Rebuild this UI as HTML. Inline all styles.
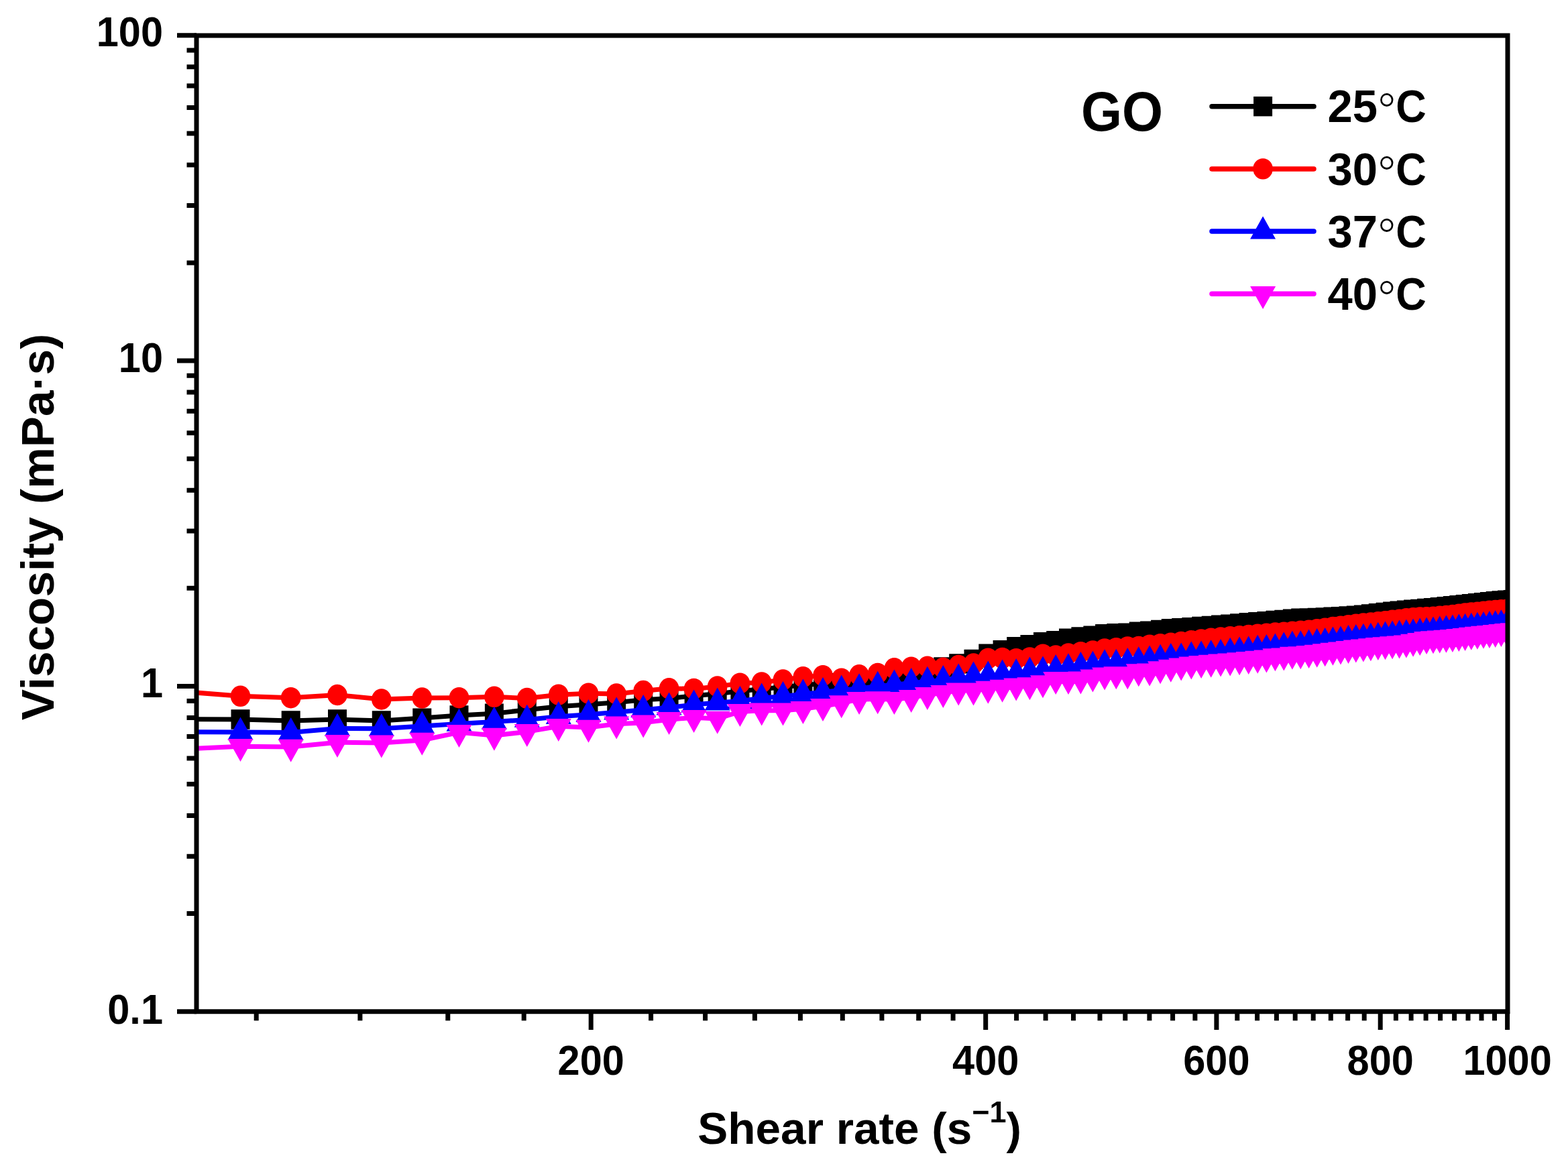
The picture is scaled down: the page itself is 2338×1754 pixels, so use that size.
<!DOCTYPE html><html><head><meta charset="utf-8"><title>Viscosity vs shear rate</title>
<style>html,body{margin:0;padding:0;background:#fff;overflow:hidden;}svg{display:block;}.t{font-family:"Liberation Sans",Arial,sans-serif;font-weight:bold;fill:#000;}</style></head><body>
<svg width="2338" height="1754" viewBox="0 0 2338 1754">
<rect width="2338" height="1754" fill="#fff"/>
<defs><clipPath id="pc"><rect x="293.0" y="53.0" width="1955.0" height="1455.7"/></clipPath></defs>
<g clip-path="url(#pc)">
<path d="M274.9 1072.7 L358.5 1073.0 L433.7 1075.0 L503.0 1073.0 L568.8 1075.0 L629.3 1071.1 L684.5 1067.0 L736.9 1064.2 L785.8 1058.7 L832.8 1053.7 L877.5 1050.7 L919.2 1047.7 L959.2 1043.7 L997.6 1041.7 L1034.6 1037.7 L1069.7 1034.7 L1103.4 1030.7 L1135.7 1027.7 L1167.5 1024.7 L1197.4 1021.7 L1227.0 1019.7 L1254.7 1018.7 L1281.1 1016.7 L1308.7 1015.7 L1333.4 1013.7 L1358.7 1011.7 L1382.8 1003.7 L1406.3 995.0 L1429.2 989.9 L1451.5 983.4 L1473.3 975.1 L1494.6 969.6 L1515.2 964.6 L1535.4 961.7 L1555.0 957.6 L1574.2 955.8 L1593.0 952.3 L1611.4 949.9 L1629.4 948.2 L1647.1 945.8 L1664.3 944.7 L1681.3 944.1 L1697.8 942.3 L1714.1 941.1 L1730.1 939.4 L1745.8 937.7 L1761.2 936.6 L1776.3 935.6 L1791.1 934.5 L1805.7 933.5 L1820.1 932.3 L1834.2 931.2 L1848.1 930.0 L1861.7 928.8 L1875.2 927.7 L1888.4 926.6 L1901.4 925.5 L1914.3 924.5 L1926.9 923.3 L1939.3 922.3 L1951.6 921.9 L1963.7 921.5 L1975.7 920.9 L1987.4 920.2 L1999.0 919.6 L2010.5 919.0 L2021.8 918.3 L2032.9 917.1 L2043.9 915.9 L2054.8 914.7 L2065.5 913.5 L2076.1 912.3 L2086.5 911.2 L2096.9 910.2 L2107.1 909.3 L2117.2 908.4 L2127.1 907.5 L2137.0 906.6 L2146.7 905.7 L2156.4 904.8 L2165.9 903.8 L2175.3 902.8 L2184.6 901.8 L2193.8 900.7 L2202.9 899.7 L2212.0 898.7 L2220.9 897.7 L2229.7 896.7 L2238.4 896.0 L2247.1 895.3 L2255.7 894.6" fill="none" stroke="#000000" stroke-width="7.0" stroke-linejoin="round"/>
<path d="M344.5 1058.3h28.0v29.4h-28.0zM419.7 1060.3h28.0v29.4h-28.0zM489.0 1058.3h28.0v29.4h-28.0zM554.8 1060.3h28.0v29.4h-28.0zM615.3 1056.4h28.0v29.4h-28.0zM670.5 1052.3h28.0v29.4h-28.0zM722.9 1049.5h28.0v29.4h-28.0zM771.8 1044.0h28.0v29.4h-28.0zM818.8 1039.0h28.0v29.4h-28.0zM863.5 1036.0h28.0v29.4h-28.0zM905.2 1033.0h28.0v29.4h-28.0zM945.2 1029.0h28.0v29.4h-28.0zM983.6 1027.0h28.0v29.4h-28.0zM1020.6 1023.0h28.0v29.4h-28.0zM1055.7 1020.0h28.0v29.4h-28.0zM1089.4 1016.0h28.0v29.4h-28.0zM1121.7 1013.0h28.0v29.4h-28.0zM1153.5 1010.0h28.0v29.4h-28.0zM1183.4 1007.0h28.0v29.4h-28.0zM1213.0 1005.0h28.0v29.4h-28.0zM1240.7 1004.0h28.0v29.4h-28.0zM1267.1 1002.0h28.0v29.4h-28.0zM1294.7 1001.0h28.0v29.4h-28.0zM1319.4 999.0h28.0v29.4h-28.0zM1344.7 997.0h28.0v29.4h-28.0zM1368.8 989.0h28.0v29.4h-28.0zM1392.3 980.3h28.0v29.4h-28.0zM1415.2 975.2h28.0v29.4h-28.0zM1437.5 968.7h28.0v29.4h-28.0zM1459.3 960.4h28.0v29.4h-28.0zM1480.6 954.9h28.0v29.4h-28.0zM1501.2 949.9h28.0v29.4h-28.0zM1521.4 947.0h28.0v29.4h-28.0zM1541.0 942.9h28.0v29.4h-28.0zM1560.2 941.1h28.0v29.4h-28.0zM1579.0 937.6h28.0v29.4h-28.0zM1597.4 935.2h28.0v29.4h-28.0zM1615.4 933.5h28.0v29.4h-28.0zM1633.1 931.1h28.0v29.4h-28.0zM1650.3 930.0h28.0v29.4h-28.0zM1667.3 929.4h28.0v29.4h-28.0zM1683.8 927.6h28.0v29.4h-28.0zM1700.1 926.4h28.0v29.4h-28.0zM1716.1 924.7h28.0v29.4h-28.0zM1731.8 923.0h28.0v29.4h-28.0zM1747.2 921.9h28.0v29.4h-28.0zM1762.3 920.9h28.0v29.4h-28.0zM1777.1 919.8h28.0v29.4h-28.0zM1791.7 918.8h28.0v29.4h-28.0zM1806.1 917.6h28.0v29.4h-28.0zM1820.2 916.5h28.0v29.4h-28.0zM1834.1 915.3h28.0v29.4h-28.0zM1847.7 914.1h28.0v29.4h-28.0zM1861.2 913.0h28.0v29.4h-28.0zM1874.4 911.9h28.0v29.4h-28.0zM1887.4 910.8h28.0v29.4h-28.0zM1900.3 909.8h28.0v29.4h-28.0zM1912.9 908.6h28.0v29.4h-28.0zM1925.3 907.6h28.0v29.4h-28.0zM1937.6 907.2h28.0v29.4h-28.0zM1949.7 906.8h28.0v29.4h-28.0zM1961.7 906.2h28.0v29.4h-28.0zM1973.4 905.5h28.0v29.4h-28.0zM1985.0 904.9h28.0v29.4h-28.0zM1996.5 904.3h28.0v29.4h-28.0zM2007.8 903.6h28.0v29.4h-28.0zM2018.9 902.4h28.0v29.4h-28.0zM2029.9 901.2h28.0v29.4h-28.0zM2040.8 900.0h28.0v29.4h-28.0zM2051.5 898.8h28.0v29.4h-28.0zM2062.1 897.6h28.0v29.4h-28.0zM2072.5 896.5h28.0v29.4h-28.0zM2082.9 895.5h28.0v29.4h-28.0zM2093.1 894.6h28.0v29.4h-28.0zM2103.2 893.7h28.0v29.4h-28.0zM2113.1 892.8h28.0v29.4h-28.0zM2123.0 891.9h28.0v29.4h-28.0zM2132.7 891.0h28.0v29.4h-28.0zM2142.4 890.1h28.0v29.4h-28.0zM2151.9 889.1h28.0v29.4h-28.0zM2161.3 888.1h28.0v29.4h-28.0zM2170.6 887.1h28.0v29.4h-28.0zM2179.8 886.0h28.0v29.4h-28.0zM2188.9 885.0h28.0v29.4h-28.0zM2198.0 884.0h28.0v29.4h-28.0zM2206.9 883.0h28.0v29.4h-28.0zM2215.7 882.0h28.0v29.4h-28.0zM2224.4 881.3h28.0v29.4h-28.0zM2233.1 880.6h28.0v29.4h-28.0zM2241.7 879.9h28.0v29.4h-28.0z" fill="#000000"/>
<path d="M274.9 1031.7 L358.5 1038.3 L433.7 1040.7 L503.0 1036.5 L568.8 1043.0 L629.3 1041.0 L684.5 1040.7 L736.9 1039.3 L785.8 1041.5 L832.8 1036.2 L877.5 1034.2 L919.2 1035.0 L959.2 1030.6 L997.6 1026.8 L1034.6 1027.4 L1069.7 1023.9 L1103.4 1019.2 L1135.7 1018.0 L1167.5 1013.9 L1197.4 1009.8 L1227.0 1007.7 L1254.7 1012.1 L1281.1 1006.8 L1308.7 1004.4 L1333.4 996.8 L1358.7 995.2 L1382.8 994.3 L1406.3 996.3 L1429.2 992.5 L1451.5 990.0 L1473.3 982.1 L1494.6 981.5 L1515.2 982.7 L1535.4 980.9 L1555.0 976.2 L1574.2 978.0 L1593.0 975.0 L1611.4 972.7 L1629.4 970.9 L1647.1 968.0 L1664.3 966.8 L1681.3 965.0 L1697.8 964.5 L1714.1 962.1 L1730.1 960.7 L1745.8 959.3 L1761.2 957.5 L1776.3 955.7 L1791.1 953.9 L1805.7 952.1 L1820.1 950.9 L1834.2 949.8 L1848.1 948.6 L1861.7 947.4 L1875.2 946.3 L1888.4 945.2 L1901.4 944.1 L1914.3 943.1 L1926.9 942.2 L1939.3 941.3 L1951.6 940.3 L1963.7 938.7 L1975.7 937.2 L1987.4 935.6 L1999.0 934.1 L2010.5 932.7 L2021.8 931.3 L2032.9 930.0 L2043.9 928.9 L2054.8 927.8 L2065.5 926.6 L2076.1 925.3 L2086.5 924.1 L2096.9 922.8 L2107.1 921.6 L2117.2 920.9 L2127.1 920.8 L2137.0 920.2 L2146.7 919.3 L2156.4 918.4 L2165.9 917.4 L2175.3 916.2 L2184.6 915.0 L2193.8 914.0 L2202.9 913.1 L2212.0 912.2 L2220.9 911.3 L2229.7 910.4 L2238.4 909.8 L2247.1 909.1 L2255.7 908.5" fill="none" stroke="#ff0000" stroke-width="7.0" stroke-linejoin="round"/>
<path d="M343.7 1038.3a14.8 15.7 0 1 0 29.6 0a14.8 15.7 0 1 0 -29.6 0zM418.9 1040.7a14.8 15.7 0 1 0 29.6 0a14.8 15.7 0 1 0 -29.6 0zM488.2 1036.5a14.8 15.7 0 1 0 29.6 0a14.8 15.7 0 1 0 -29.6 0zM554.0 1043.0a14.8 15.7 0 1 0 29.6 0a14.8 15.7 0 1 0 -29.6 0zM614.5 1041.0a14.8 15.7 0 1 0 29.6 0a14.8 15.7 0 1 0 -29.6 0zM669.7 1040.7a14.8 15.7 0 1 0 29.6 0a14.8 15.7 0 1 0 -29.6 0zM722.1 1039.3a14.8 15.7 0 1 0 29.6 0a14.8 15.7 0 1 0 -29.6 0zM771.0 1041.5a14.8 15.7 0 1 0 29.6 0a14.8 15.7 0 1 0 -29.6 0zM818.0 1036.2a14.8 15.7 0 1 0 29.6 0a14.8 15.7 0 1 0 -29.6 0zM862.7 1034.2a14.8 15.7 0 1 0 29.6 0a14.8 15.7 0 1 0 -29.6 0zM904.4 1035.0a14.8 15.7 0 1 0 29.6 0a14.8 15.7 0 1 0 -29.6 0zM944.4 1030.6a14.8 15.7 0 1 0 29.6 0a14.8 15.7 0 1 0 -29.6 0zM982.8 1026.8a14.8 15.7 0 1 0 29.6 0a14.8 15.7 0 1 0 -29.6 0zM1019.8 1027.4a14.8 15.7 0 1 0 29.6 0a14.8 15.7 0 1 0 -29.6 0zM1054.9 1023.9a14.8 15.7 0 1 0 29.6 0a14.8 15.7 0 1 0 -29.6 0zM1088.6 1019.2a14.8 15.7 0 1 0 29.6 0a14.8 15.7 0 1 0 -29.6 0zM1120.9 1018.0a14.8 15.7 0 1 0 29.6 0a14.8 15.7 0 1 0 -29.6 0zM1152.7 1013.9a14.8 15.7 0 1 0 29.6 0a14.8 15.7 0 1 0 -29.6 0zM1182.6 1009.8a14.8 15.7 0 1 0 29.6 0a14.8 15.7 0 1 0 -29.6 0zM1212.2 1007.7a14.8 15.7 0 1 0 29.6 0a14.8 15.7 0 1 0 -29.6 0zM1239.9 1012.1a14.8 15.7 0 1 0 29.6 0a14.8 15.7 0 1 0 -29.6 0zM1266.3 1006.8a14.8 15.7 0 1 0 29.6 0a14.8 15.7 0 1 0 -29.6 0zM1293.9 1004.4a14.8 15.7 0 1 0 29.6 0a14.8 15.7 0 1 0 -29.6 0zM1318.6 996.8a14.8 15.7 0 1 0 29.6 0a14.8 15.7 0 1 0 -29.6 0zM1343.9 995.2a14.8 15.7 0 1 0 29.6 0a14.8 15.7 0 1 0 -29.6 0zM1368.0 994.3a14.8 15.7 0 1 0 29.6 0a14.8 15.7 0 1 0 -29.6 0zM1391.5 996.3a14.8 15.7 0 1 0 29.6 0a14.8 15.7 0 1 0 -29.6 0zM1414.4 992.5a14.8 15.7 0 1 0 29.6 0a14.8 15.7 0 1 0 -29.6 0zM1436.8 990.0a14.8 15.7 0 1 0 29.6 0a14.8 15.7 0 1 0 -29.6 0zM1458.5 982.1a14.8 15.7 0 1 0 29.6 0a14.8 15.7 0 1 0 -29.6 0zM1479.8 981.5a14.8 15.7 0 1 0 29.6 0a14.8 15.7 0 1 0 -29.6 0zM1500.4 982.7a14.8 15.7 0 1 0 29.6 0a14.8 15.7 0 1 0 -29.6 0zM1520.6 980.9a14.8 15.7 0 1 0 29.6 0a14.8 15.7 0 1 0 -29.6 0zM1540.2 976.2a14.8 15.7 0 1 0 29.6 0a14.8 15.7 0 1 0 -29.6 0zM1559.4 978.0a14.8 15.7 0 1 0 29.6 0a14.8 15.7 0 1 0 -29.6 0zM1578.2 975.0a14.8 15.7 0 1 0 29.6 0a14.8 15.7 0 1 0 -29.6 0zM1596.6 972.7a14.8 15.7 0 1 0 29.6 0a14.8 15.7 0 1 0 -29.6 0zM1614.6 970.9a14.8 15.7 0 1 0 29.6 0a14.8 15.7 0 1 0 -29.6 0zM1632.3 968.0a14.8 15.7 0 1 0 29.6 0a14.8 15.7 0 1 0 -29.6 0zM1649.5 966.8a14.8 15.7 0 1 0 29.6 0a14.8 15.7 0 1 0 -29.6 0zM1666.5 965.0a14.8 15.7 0 1 0 29.6 0a14.8 15.7 0 1 0 -29.6 0zM1683.0 964.5a14.8 15.7 0 1 0 29.6 0a14.8 15.7 0 1 0 -29.6 0zM1699.3 962.1a14.8 15.7 0 1 0 29.6 0a14.8 15.7 0 1 0 -29.6 0zM1715.3 960.7a14.8 15.7 0 1 0 29.6 0a14.8 15.7 0 1 0 -29.6 0zM1731.0 959.3a14.8 15.7 0 1 0 29.6 0a14.8 15.7 0 1 0 -29.6 0zM1746.4 957.5a14.8 15.7 0 1 0 29.6 0a14.8 15.7 0 1 0 -29.6 0zM1761.5 955.7a14.8 15.7 0 1 0 29.6 0a14.8 15.7 0 1 0 -29.6 0zM1776.3 953.9a14.8 15.7 0 1 0 29.6 0a14.8 15.7 0 1 0 -29.6 0zM1790.9 952.1a14.8 15.7 0 1 0 29.6 0a14.8 15.7 0 1 0 -29.6 0zM1805.3 950.9a14.8 15.7 0 1 0 29.6 0a14.8 15.7 0 1 0 -29.6 0zM1819.4 949.8a14.8 15.7 0 1 0 29.6 0a14.8 15.7 0 1 0 -29.6 0zM1833.3 948.6a14.8 15.7 0 1 0 29.6 0a14.8 15.7 0 1 0 -29.6 0zM1846.9 947.4a14.8 15.7 0 1 0 29.6 0a14.8 15.7 0 1 0 -29.6 0zM1860.4 946.3a14.8 15.7 0 1 0 29.6 0a14.8 15.7 0 1 0 -29.6 0zM1873.6 945.2a14.8 15.7 0 1 0 29.6 0a14.8 15.7 0 1 0 -29.6 0zM1886.6 944.1a14.8 15.7 0 1 0 29.6 0a14.8 15.7 0 1 0 -29.6 0zM1899.5 943.1a14.8 15.7 0 1 0 29.6 0a14.8 15.7 0 1 0 -29.6 0zM1912.1 942.2a14.8 15.7 0 1 0 29.6 0a14.8 15.7 0 1 0 -29.6 0zM1924.5 941.3a14.8 15.7 0 1 0 29.6 0a14.8 15.7 0 1 0 -29.6 0zM1936.8 940.3a14.8 15.7 0 1 0 29.6 0a14.8 15.7 0 1 0 -29.6 0zM1948.9 938.7a14.8 15.7 0 1 0 29.6 0a14.8 15.7 0 1 0 -29.6 0zM1960.9 937.2a14.8 15.7 0 1 0 29.6 0a14.8 15.7 0 1 0 -29.6 0zM1972.6 935.6a14.8 15.7 0 1 0 29.6 0a14.8 15.7 0 1 0 -29.6 0zM1984.2 934.1a14.8 15.7 0 1 0 29.6 0a14.8 15.7 0 1 0 -29.6 0zM1995.7 932.7a14.8 15.7 0 1 0 29.6 0a14.8 15.7 0 1 0 -29.6 0zM2007.0 931.3a14.8 15.7 0 1 0 29.6 0a14.8 15.7 0 1 0 -29.6 0zM2018.1 930.0a14.8 15.7 0 1 0 29.6 0a14.8 15.7 0 1 0 -29.6 0zM2029.1 928.9a14.8 15.7 0 1 0 29.6 0a14.8 15.7 0 1 0 -29.6 0zM2040.0 927.8a14.8 15.7 0 1 0 29.6 0a14.8 15.7 0 1 0 -29.6 0zM2050.7 926.6a14.8 15.7 0 1 0 29.6 0a14.8 15.7 0 1 0 -29.6 0zM2061.3 925.3a14.8 15.7 0 1 0 29.6 0a14.8 15.7 0 1 0 -29.6 0zM2071.7 924.1a14.8 15.7 0 1 0 29.6 0a14.8 15.7 0 1 0 -29.6 0zM2082.1 922.8a14.8 15.7 0 1 0 29.6 0a14.8 15.7 0 1 0 -29.6 0zM2092.3 921.6a14.8 15.7 0 1 0 29.6 0a14.8 15.7 0 1 0 -29.6 0zM2102.4 920.9a14.8 15.7 0 1 0 29.6 0a14.8 15.7 0 1 0 -29.6 0zM2112.3 920.8a14.8 15.7 0 1 0 29.6 0a14.8 15.7 0 1 0 -29.6 0zM2122.2 920.2a14.8 15.7 0 1 0 29.6 0a14.8 15.7 0 1 0 -29.6 0zM2131.9 919.3a14.8 15.7 0 1 0 29.6 0a14.8 15.7 0 1 0 -29.6 0zM2141.6 918.4a14.8 15.7 0 1 0 29.6 0a14.8 15.7 0 1 0 -29.6 0zM2151.1 917.4a14.8 15.7 0 1 0 29.6 0a14.8 15.7 0 1 0 -29.6 0zM2160.5 916.2a14.8 15.7 0 1 0 29.6 0a14.8 15.7 0 1 0 -29.6 0zM2169.8 915.0a14.8 15.7 0 1 0 29.6 0a14.8 15.7 0 1 0 -29.6 0zM2179.0 914.0a14.8 15.7 0 1 0 29.6 0a14.8 15.7 0 1 0 -29.6 0zM2188.1 913.1a14.8 15.7 0 1 0 29.6 0a14.8 15.7 0 1 0 -29.6 0zM2197.2 912.2a14.8 15.7 0 1 0 29.6 0a14.8 15.7 0 1 0 -29.6 0zM2206.1 911.3a14.8 15.7 0 1 0 29.6 0a14.8 15.7 0 1 0 -29.6 0zM2214.9 910.4a14.8 15.7 0 1 0 29.6 0a14.8 15.7 0 1 0 -29.6 0zM2223.6 909.8a14.8 15.7 0 1 0 29.6 0a14.8 15.7 0 1 0 -29.6 0zM2232.3 909.1a14.8 15.7 0 1 0 29.6 0a14.8 15.7 0 1 0 -29.6 0zM2240.9 908.5a14.8 15.7 0 1 0 29.6 0a14.8 15.7 0 1 0 -29.6 0z" fill="#ff0000"/>
<path d="M274.9 1091.7 L358.5 1092.1 L433.7 1092.6 L503.0 1086.5 L568.8 1086.7 L629.3 1083.0 L684.5 1079.4 L736.9 1076.5 L785.8 1073.4 L832.8 1068.7 L877.5 1065.8 L919.2 1062.3 L959.2 1058.7 L997.6 1055.2 L1034.6 1051.1 L1069.7 1048.1 L1103.4 1045.8 L1135.7 1041.1 L1167.5 1038.7 L1197.4 1035.2 L1227.0 1032.6 L1254.7 1029.3 L1281.1 1026.9 L1308.7 1023.4 L1333.4 1021.2 L1358.7 1018.7 L1382.8 1016.4 L1406.3 1014.6 L1429.2 1012.2 L1451.5 1009.3 L1473.3 1008.1 L1494.6 1006.3 L1515.2 1004.6 L1535.4 1002.2 L1555.0 1001.1 L1574.2 998.7 L1593.0 996.9 L1611.4 994.6 L1629.4 993.4 L1647.1 991.0 L1664.3 990.5 L1681.3 988.7 L1697.8 987.0 L1714.1 985.2 L1730.1 983.4 L1745.8 981.6 L1761.2 981.1 L1776.3 979.3 L1791.1 978.1 L1805.7 976.9 L1820.1 975.8 L1834.2 973.4 L1848.1 972.2 L1861.7 971.1 L1875.2 969.4 L1888.4 968.7 L1901.4 967.0 L1914.3 965.2 L1926.9 963.5 L1939.3 962.9 L1951.6 961.1 L1963.7 959.8 L1975.7 958.5 L1987.4 957.3 L1999.0 956.0 L2010.5 954.8 L2021.8 953.6 L2032.9 952.5 L2043.9 951.4 L2054.8 950.3 L2065.5 949.3 L2076.1 948.2 L2086.5 947.1 L2096.9 946.1 L2107.1 945.1 L2117.2 944.1 L2127.1 943.1 L2137.0 942.1 L2146.7 941.1 L2156.4 940.2 L2165.9 939.2 L2175.3 938.3 L2184.6 937.3 L2193.8 936.4 L2202.9 935.5 L2212.0 934.6 L2220.9 933.7 L2229.7 932.8 L2238.4 931.9 L2247.1 931.0 L2255.7 930.1" fill="none" stroke="#0000ff" stroke-width="7.0" stroke-linejoin="round"/>
<path d="M358.5 1069.4L377.5 1103.4L339.5 1103.4zM433.7 1069.9L452.7 1103.9L414.7 1103.9zM503.0 1063.8L522.0 1097.8L484.0 1097.8zM568.8 1064.0L587.8 1098.0L549.8 1098.0zM629.3 1060.3L648.3 1094.3L610.3 1094.3zM684.5 1056.7L703.5 1090.7L665.5 1090.7zM736.9 1053.8L755.9 1087.8L717.9 1087.8zM785.8 1050.7L804.8 1084.7L766.8 1084.7zM832.8 1046.0L851.8 1080.0L813.8 1080.0zM877.5 1043.1L896.5 1077.1L858.5 1077.1zM919.2 1039.6L938.2 1073.6L900.2 1073.6zM959.2 1036.0L978.2 1070.0L940.2 1070.0zM997.6 1032.5L1016.6 1066.5L978.6 1066.5zM1034.6 1028.4L1053.6 1062.4L1015.6 1062.4zM1069.7 1025.4L1088.7 1059.4L1050.7 1059.4zM1103.4 1023.1L1122.4 1057.1L1084.4 1057.1zM1135.7 1018.4L1154.7 1052.4L1116.7 1052.4zM1167.5 1016.0L1186.5 1050.0L1148.5 1050.0zM1197.4 1012.5L1216.4 1046.5L1178.4 1046.5zM1227.0 1009.9L1246.0 1043.9L1208.0 1043.9zM1254.7 1006.6L1273.7 1040.6L1235.7 1040.6zM1281.1 1004.2L1300.1 1038.2L1262.1 1038.2zM1308.7 1000.7L1327.7 1034.7L1289.7 1034.7zM1333.4 998.5L1352.4 1032.5L1314.4 1032.5zM1358.7 996.0L1377.7 1030.0L1339.7 1030.0zM1382.8 993.7L1401.8 1027.7L1363.8 1027.7zM1406.3 991.9L1425.3 1025.9L1387.3 1025.9zM1429.2 989.5L1448.2 1023.5L1410.2 1023.5zM1451.5 986.6L1470.5 1020.6L1432.5 1020.6zM1473.3 985.4L1492.3 1019.4L1454.3 1019.4zM1494.6 983.6L1513.6 1017.6L1475.6 1017.6zM1515.2 981.9L1534.2 1015.9L1496.2 1015.9zM1535.4 979.5L1554.4 1013.5L1516.4 1013.5zM1555.0 978.4L1574.0 1012.4L1536.0 1012.4zM1574.2 976.0L1593.2 1010.0L1555.2 1010.0zM1593.0 974.2L1612.0 1008.2L1574.0 1008.2zM1611.4 971.9L1630.4 1005.9L1592.4 1005.9zM1629.4 970.7L1648.4 1004.7L1610.4 1004.7zM1647.1 968.3L1666.1 1002.3L1628.1 1002.3zM1664.3 967.8L1683.3 1001.8L1645.3 1001.8zM1681.3 966.0L1700.3 1000.0L1662.3 1000.0zM1697.8 964.3L1716.8 998.3L1678.8 998.3zM1714.1 962.5L1733.1 996.5L1695.1 996.5zM1730.1 960.7L1749.1 994.7L1711.1 994.7zM1745.8 958.9L1764.8 992.9L1726.8 992.9zM1761.2 958.4L1780.2 992.4L1742.2 992.4zM1776.3 956.6L1795.3 990.6L1757.3 990.6zM1791.1 955.4L1810.1 989.4L1772.1 989.4zM1805.7 954.2L1824.7 988.2L1786.7 988.2zM1820.1 953.1L1839.1 987.1L1801.1 987.1zM1834.2 950.7L1853.2 984.7L1815.2 984.7zM1848.1 949.5L1867.1 983.5L1829.1 983.5zM1861.7 948.5L1880.7 982.5L1842.7 982.5zM1875.2 946.7L1894.2 980.7L1856.2 980.7zM1888.4 946.0L1907.4 980.0L1869.4 980.0zM1901.4 944.4L1920.4 978.4L1882.4 978.4zM1914.3 942.5L1933.3 976.5L1895.3 976.5zM1926.9 940.8L1945.9 974.8L1907.9 974.8zM1939.3 940.2L1958.3 974.2L1920.3 974.2zM1951.6 938.4L1970.6 972.4L1932.6 972.4zM1963.7 937.1L1982.7 971.1L1944.7 971.1zM1975.7 935.9L1994.7 969.9L1956.7 969.9zM1987.4 934.6L2006.4 968.6L1968.4 968.6zM1999.0 933.4L2018.0 967.4L1980.0 967.4zM2010.5 932.1L2029.5 966.1L1991.5 966.1zM2021.8 931.0L2040.8 965.0L2002.8 965.0zM2032.9 929.8L2051.9 963.8L2013.9 963.8zM2043.9 928.7L2062.9 962.7L2024.9 962.7zM2054.8 927.7L2073.8 961.7L2035.8 961.7zM2065.5 926.6L2084.5 960.6L2046.5 960.6zM2076.1 925.5L2095.1 959.5L2057.1 959.5zM2086.5 924.5L2105.5 958.5L2067.5 958.5zM2096.9 923.4L2115.9 957.4L2077.9 957.4zM2107.1 922.4L2126.1 956.4L2088.1 956.4zM2117.2 921.4L2136.2 955.4L2098.2 955.4zM2127.1 920.4L2146.1 954.4L2108.1 954.4zM2137.0 919.4L2156.0 953.4L2118.0 953.4zM2146.7 918.5L2165.7 952.5L2127.7 952.5zM2156.4 917.5L2175.4 951.5L2137.4 951.5zM2165.9 916.5L2184.9 950.5L2146.9 950.5zM2175.3 915.6L2194.3 949.6L2156.3 949.6zM2184.6 914.7L2203.6 948.7L2165.6 948.7zM2193.8 913.8L2212.8 947.8L2174.8 947.8zM2202.9 912.8L2221.9 946.8L2183.9 946.8zM2212.0 911.9L2231.0 945.9L2193.0 945.9zM2220.9 911.0L2239.9 945.0L2201.9 945.0zM2229.7 910.2L2248.7 944.2L2210.7 944.2zM2238.4 909.3L2257.4 943.3L2219.4 943.3zM2247.1 908.4L2266.1 942.4L2228.1 942.4zM2255.7 907.5L2274.7 941.5L2236.7 941.5z" fill="#0000ff"/>
<path d="M274.9 1117.0 L358.5 1113.2 L433.7 1114.0 L503.0 1107.2 L568.8 1107.9 L629.3 1104.0 L684.5 1092.3 L736.9 1097.0 L785.8 1091.4 L832.8 1083.2 L877.5 1085.0 L919.2 1079.7 L959.2 1077.9 L997.6 1073.2 L1034.6 1070.2 L1069.7 1072.0 L1103.4 1061.4 L1135.7 1059.7 L1167.5 1059.7 L1197.4 1057.3 L1227.0 1053.2 L1254.7 1048.5 L1281.1 1043.2 L1308.7 1042.6 L1333.4 1043.2 L1358.7 1040.3 L1382.8 1036.2 L1406.3 1033.2 L1429.2 1029.7 L1451.5 1029.7 L1473.3 1027.1 L1494.6 1025.0 L1515.2 1022.7 L1535.4 1021.5 L1555.0 1018.5 L1574.2 1013.3 L1593.0 1013.3 L1611.4 1012.7 L1629.4 1009.7 L1647.1 1006.8 L1664.3 1005.6 L1681.3 1005.6 L1697.8 1001.5 L1714.1 1000.9 L1730.1 997.5 L1745.8 995.1 L1761.2 992.8 L1776.3 991.0 L1791.1 989.4 L1805.7 988.2 L1820.1 987.0 L1834.2 985.8 L1848.1 984.6 L1861.7 983.4 L1875.2 982.1 L1888.4 980.9 L1901.4 978.5 L1914.3 977.9 L1926.9 976.1 L1939.3 975.5 L1951.6 974.4 L1963.7 973.0 L1975.7 971.6 L1987.4 970.1 L1999.0 968.7 L2010.5 967.3 L2021.8 965.9 L2032.9 964.7 L2043.9 963.6 L2054.8 962.4 L2065.5 961.5 L2076.1 960.6 L2086.5 959.8 L2096.9 958.9 L2107.1 957.1 L2117.2 955.3 L2127.1 953.5 L2137.0 952.6 L2146.7 951.9 L2156.4 951.1 L2165.9 950.4 L2175.3 949.3 L2184.6 948.2 L2193.8 947.2 L2202.9 946.1 L2212.0 945.2 L2220.9 944.3 L2229.7 943.3 L2238.4 942.4 L2247.1 941.5 L2255.7 940.5" fill="none" stroke="#ff00ff" stroke-width="7.0" stroke-linejoin="round"/>
<path d="M358.5 1135.9L377.5 1101.9L339.5 1101.9zM433.7 1136.7L452.7 1102.7L414.7 1102.7zM503.0 1129.9L522.0 1095.9L484.0 1095.9zM568.8 1130.6L587.8 1096.6L549.8 1096.6zM629.3 1126.7L648.3 1092.7L610.3 1092.7zM684.5 1115.0L703.5 1081.0L665.5 1081.0zM736.9 1119.7L755.9 1085.7L717.9 1085.7zM785.8 1114.1L804.8 1080.1L766.8 1080.1zM832.8 1105.9L851.8 1071.9L813.8 1071.9zM877.5 1107.7L896.5 1073.7L858.5 1073.7zM919.2 1102.4L938.2 1068.4L900.2 1068.4zM959.2 1100.6L978.2 1066.6L940.2 1066.6zM997.6 1095.9L1016.6 1061.9L978.6 1061.9zM1034.6 1092.9L1053.6 1058.9L1015.6 1058.9zM1069.7 1094.7L1088.7 1060.7L1050.7 1060.7zM1103.4 1084.1L1122.4 1050.1L1084.4 1050.1zM1135.7 1082.4L1154.7 1048.4L1116.7 1048.4zM1167.5 1082.4L1186.5 1048.4L1148.5 1048.4zM1197.4 1080.0L1216.4 1046.0L1178.4 1046.0zM1227.0 1075.9L1246.0 1041.9L1208.0 1041.9zM1254.7 1071.2L1273.7 1037.2L1235.7 1037.2zM1281.1 1065.9L1300.1 1031.9L1262.1 1031.9zM1308.7 1065.3L1327.7 1031.3L1289.7 1031.3zM1333.4 1065.9L1352.4 1031.9L1314.4 1031.9zM1358.7 1063.0L1377.7 1029.0L1339.7 1029.0zM1382.8 1058.9L1401.8 1024.9L1363.8 1024.9zM1406.3 1055.9L1425.3 1021.9L1387.3 1021.9zM1429.2 1052.4L1448.2 1018.4L1410.2 1018.4zM1451.5 1052.4L1470.5 1018.4L1432.5 1018.4zM1473.3 1049.8L1492.3 1015.8L1454.3 1015.8zM1494.6 1047.7L1513.6 1013.7L1475.6 1013.7zM1515.2 1045.4L1534.2 1011.4L1496.2 1011.4zM1535.4 1044.2L1554.4 1010.2L1516.4 1010.2zM1555.0 1041.2L1574.0 1007.2L1536.0 1007.2zM1574.2 1036.0L1593.2 1002.0L1555.2 1002.0zM1593.0 1036.0L1612.0 1002.0L1574.0 1002.0zM1611.4 1035.4L1630.4 1001.4L1592.4 1001.4zM1629.4 1032.4L1648.4 998.4L1610.4 998.4zM1647.1 1029.5L1666.1 995.5L1628.1 995.5zM1664.3 1028.3L1683.3 994.3L1645.3 994.3zM1681.3 1028.3L1700.3 994.3L1662.3 994.3zM1697.8 1024.2L1716.8 990.2L1678.8 990.2zM1714.1 1023.6L1733.1 989.6L1695.1 989.6zM1730.1 1020.2L1749.1 986.2L1711.1 986.2zM1745.8 1017.7L1764.8 983.7L1726.8 983.7zM1761.2 1015.4L1780.2 981.4L1742.2 981.4zM1776.3 1013.6L1795.3 979.6L1757.3 979.6zM1791.1 1012.0L1810.1 978.0L1772.1 978.0zM1805.7 1010.8L1824.7 976.8L1786.7 976.8zM1820.1 1009.6L1839.1 975.6L1801.1 975.6zM1834.2 1008.4L1853.2 974.4L1815.2 974.4zM1848.1 1007.2L1867.1 973.2L1829.1 973.2zM1861.7 1006.0L1880.7 972.0L1842.7 972.0zM1875.2 1004.8L1894.2 970.8L1856.2 970.8zM1888.4 1003.5L1907.4 969.5L1869.4 969.5zM1901.4 1001.2L1920.4 967.2L1882.4 967.2zM1914.3 1000.6L1933.3 966.6L1895.3 966.6zM1926.9 998.8L1945.9 964.8L1907.9 964.8zM1939.3 998.2L1958.3 964.2L1920.3 964.2zM1951.6 997.1L1970.6 963.1L1932.6 963.1zM1963.7 995.7L1982.7 961.7L1944.7 961.7zM1975.7 994.2L1994.7 960.2L1956.7 960.2zM1987.4 992.8L2006.4 958.8L1968.4 958.8zM1999.0 991.4L2018.0 957.4L1980.0 957.4zM2010.5 989.9L2029.5 955.9L1991.5 955.9zM2021.8 988.5L2040.8 954.5L2002.8 954.5zM2032.9 987.4L2051.9 953.4L2013.9 953.4zM2043.9 986.2L2062.9 952.2L2024.9 952.2zM2054.8 985.1L2073.8 951.1L2035.8 951.1zM2065.5 984.2L2084.5 950.2L2046.5 950.2zM2076.1 983.3L2095.1 949.3L2057.1 949.3zM2086.5 982.4L2105.5 948.4L2067.5 948.4zM2096.9 981.6L2115.9 947.6L2077.9 947.6zM2107.1 979.7L2126.1 945.7L2088.1 945.7zM2117.2 977.9L2136.2 943.9L2098.2 943.9zM2127.1 976.1L2146.1 942.1L2108.1 942.1zM2137.0 975.3L2156.0 941.3L2118.0 941.3zM2146.7 974.5L2165.7 940.5L2127.7 940.5zM2156.4 973.8L2175.4 939.8L2137.4 939.8zM2165.9 973.1L2184.9 939.1L2146.9 939.1zM2175.3 972.0L2194.3 938.0L2156.3 938.0zM2184.6 970.9L2203.6 936.9L2165.6 936.9zM2193.8 969.8L2212.8 935.8L2174.8 935.8zM2202.9 968.8L2221.9 934.8L2183.9 934.8zM2212.0 967.8L2231.0 933.8L2193.0 933.8zM2220.9 966.9L2239.9 932.9L2201.9 932.9zM2229.7 966.0L2248.7 932.0L2210.7 932.0zM2238.4 965.1L2257.4 931.1L2219.4 931.1zM2247.1 964.1L2266.1 930.1L2228.1 930.1zM2255.7 963.2L2274.7 929.2L2236.7 929.2z" fill="#ff00ff"/>
</g>
<g stroke="#000" stroke-width="7.0" fill="none" stroke-linecap="square">
<path d="M293.0 53.0H2248.0V1508.7H293.0Z" stroke-linecap="butt" stroke-linejoin="miter"/>
</g>
<path d="M264 52.8H293.0M264 538.1H293.0M264 1023.4H293.0M264 1508.7H293.0M278.5 392.0H293.0M278.5 306.6H293.0M278.5 245.9H293.0M278.5 198.9H293.0M278.5 160.5H293.0M278.5 128.0H293.0M278.5 99.8H293.0M278.5 75.0H293.0M278.5 877.3H293.0M278.5 791.9H293.0M278.5 731.2H293.0M278.5 684.2H293.0M278.5 645.8H293.0M278.5 613.3H293.0M278.5 585.1H293.0M278.5 560.3H293.0M278.5 1362.6H293.0M278.5 1277.2H293.0M278.5 1216.5H293.0M278.5 1169.5H293.0M278.5 1131.1H293.0M278.5 1098.6H293.0M278.5 1070.4H293.0M278.5 1045.6H293.0M881.2 1508.7V1536M1469.7 1508.7V1536M1813.9 1508.7V1536M2058.2 1508.7V1536M2247.6 1508.7V1536M382.2 1508.7V1522.2M536.9 1508.7V1522.2M667.8 1508.7V1522.2M781.2 1508.7V1522.2M970.6 1508.7V1522.2M1051.6 1508.7V1522.2M1125.4 1508.7V1522.2M1193.4 1508.7V1522.2M1256.3 1508.7V1522.2M1314.9 1508.7V1522.2M1369.7 1508.7V1522.2M1421.1 1508.7V1522.2M1515.6 1508.7V1522.2M1559.1 1508.7V1522.2M1600.5 1508.7V1522.2M1640.0 1508.7V1522.2M1677.8 1508.7V1522.2M1713.9 1508.7V1522.2M1748.6 1508.7V1522.2M1781.9 1508.7V1522.2M1844.8 1508.7V1522.2M1874.6 1508.7V1522.2M1903.4 1508.7V1522.2M1931.2 1508.7V1522.2M1958.2 1508.7V1522.2M1984.3 1508.7V1522.2M2009.6 1508.7V1522.2M2034.2 1508.7V1522.2M2081.4 1508.7V1522.2M2104.1 1508.7V1522.2M2126.1 1508.7V1522.2M2147.6 1508.7V1522.2M2168.6 1508.7V1522.2M2189.0 1508.7V1522.2M2209.0 1508.7V1522.2M2228.5 1508.7V1522.2" stroke="#000" stroke-width="7.0" fill="none"/>
<text class="t" transform="translate(243 69.2) scale(1 1.045)" font-size="59.5" text-anchor="end">100</text>
<text class="t" transform="translate(243 555.0) scale(1 1.045)" font-size="59.5" text-anchor="end">10</text>
<text class="t" transform="translate(243 1040.1) scale(1 1.045)" font-size="59.5" text-anchor="end">1</text>
<text class="t" transform="translate(243 1526.8) scale(1 1.045)" font-size="59.5" text-anchor="end">0.1</text>
<text class="t" transform="translate(881.2 1603.4) scale(1 1.045)" font-size="59.5" text-anchor="middle">200</text>
<text class="t" transform="translate(1469.7 1603.4) scale(1 1.045)" font-size="59.5" text-anchor="middle">400</text>
<text class="t" transform="translate(1813.9 1603.4) scale(1 1.045)" font-size="59.5" text-anchor="middle">600</text>
<text class="t" transform="translate(2058.2 1603.4) scale(1 1.045)" font-size="59.5" text-anchor="middle">800</text>
<text class="t" transform="translate(2247.6 1603.4) scale(1 1.045)" font-size="59.5" text-anchor="middle">1000</text>
<text class="t" x="1040.3" y="1705.5" font-size="67.5">Shear rate (s<tspan font-size="45" dy="-31.5">−1</tspan><tspan dy="31.5">)</tspan></text>
<text class="t" transform="translate(79.8 1074.2) rotate(-90)" font-size="69.3">Viscosity (mPa·s)</text>
<text class="t" transform="translate(1611.9 194.6) scale(0.969 1.03)" font-size="81">GO</text>
<path d="M1807 158.7H1959" stroke="#000000" stroke-width="7.5" stroke-linecap="round"/>
<path d="M1869.1 144.0h28.0v29.4h-28.0z" fill="#000000"/>
<text class="t" transform="translate(0 182.3) scale(1 1.035)" font-size="67"><tspan x="1979.4" y="0">25</tspan><tspan x="2049.7" y="10.63" font-family="DejaVu Sans" font-weight="200" font-size="72">°</tspan><tspan x="2081.2" y="0" textLength="45.5" lengthAdjust="spacingAndGlyphs">C</tspan></text>
<path d="M1807 251.9H1959" stroke="#ff0000" stroke-width="7.5" stroke-linecap="round"/>
<path d="M1868.3 251.9a14.8 15.7 0 1 0 29.6 0a14.8 15.7 0 1 0 -29.6 0z" fill="#ff0000"/>
<text class="t" transform="translate(0 275.5) scale(1 1.035)" font-size="67"><tspan x="1979.4" y="0">30</tspan><tspan x="2049.7" y="10.63" font-family="DejaVu Sans" font-weight="200" font-size="72">°</tspan><tspan x="2081.2" y="0" textLength="45.5" lengthAdjust="spacingAndGlyphs">C</tspan></text>
<path d="M1807 345.1H1959" stroke="#0000ff" stroke-width="7.5" stroke-linecap="round"/>
<path d="M1883.1 322.4L1902.1 356.4L1864.1 356.4z" fill="#0000ff"/>
<text class="t" transform="translate(0 368.7) scale(1 1.035)" font-size="67"><tspan x="1979.4" y="0">37</tspan><tspan x="2049.7" y="10.63" font-family="DejaVu Sans" font-weight="200" font-size="72">°</tspan><tspan x="2081.2" y="0" textLength="45.5" lengthAdjust="spacingAndGlyphs">C</tspan></text>
<path d="M1807 438.3H1959" stroke="#ff00ff" stroke-width="7.5" stroke-linecap="round"/>
<path d="M1883.1 461.0L1902.1 427.0L1864.1 427.0z" fill="#ff00ff"/>
<text class="t" transform="translate(0 461.9) scale(1 1.035)" font-size="67"><tspan x="1979.4" y="0">40</tspan><tspan x="2049.7" y="10.63" font-family="DejaVu Sans" font-weight="200" font-size="72">°</tspan><tspan x="2081.2" y="0" textLength="45.5" lengthAdjust="spacingAndGlyphs">C</tspan></text>
</svg></body></html>
